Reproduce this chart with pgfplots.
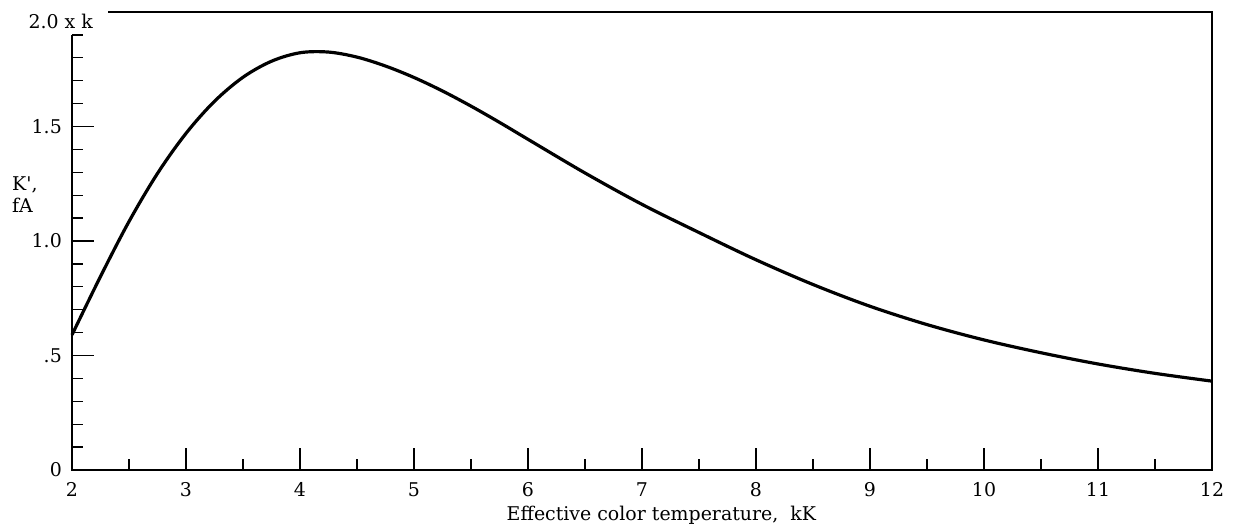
\documentclass[border=0pt]{standalone}
\usepackage{fontspec}
\setmainfont{DejaVu Serif}
\newfontfamily\plainserif{DejaVu Serif}[Ligatures=TeXOff]
\usepackage{pgfplots}
\pgfplotsset{compat=1.18}
\begin{document}
\begin{tikzpicture}
\begin{axis}[
  scale only axis, width=1140bp, height=458bp,
  xmin=2, xmax=12, ymin=0, ymax=2,
  axis line style={draw=none},
  xtick={2,3,...,12},
  minor xtick={2.5,3.5,4.5,5.5,6.5,7.5,8.5,9.5,10.5,11.5},
  ytick={0,0.5,1,1.5},
  yticklabels={0,.5,1.0,1.5},
  minor ytick={0.1,0.2,0.3,0.4,0.6,0.7,0.8,0.9,1.1,1.2,1.3,1.4,1.6,1.7,1.8,1.9},
  xtick pos=bottom, ytick pos=left, tick align=inside,
  major tick length=22bp, minor tick length=11bp,
  tick style={black, line width=1.3pt},
  /pgf/number format/assume math mode=true,
  ticklabel style={font=\fontsize{19}{22}\selectfont},
  xticklabel style={inner sep=0pt, anchor=north, yshift=-12bp},
  yticklabel style={inner sep=0pt, anchor=east, xshift=-10bp},
  clip=false,
]
\draw[line width=2pt] (axis cs:2,1.9) -- (axis cs:2,0) -- (axis cs:12,0) -- (axis cs:12,2) -- (axis cs:2.316,2);
\addplot[black, line width=3.2pt, smooth, tension=0.55] coordinates {
(2,0.59) (2.25,0.845) (2.5,1.085) (2.75,1.295) (3,1.47) (3.25,1.61) (3.5,1.715)
(3.75,1.785) (4,1.822) (4.25,1.825) (4.5,1.803) (4.75,1.764) (5,1.714) (5.25,1.655)
(5.5,1.589) (5.75,1.518) (6,1.444) (6.5,1.297) (7,1.16) (7.5,1.037) (8,0.918)
(8.5,0.81) (9,0.715) (9.5,0.635) (10,0.568) (10.5,0.512) (11,0.463) (11.5,0.422) (12,0.388)};
\node[anchor=east, inner sep=0pt, font=\fontsize{19}{22}\selectfont] at (axis cs:2,1.958) [xshift=21bp] {2.0 x k};
\node[anchor=north west, align=left, inner sep=0pt, font=\fontsize{19}{22}\plainserif] at (axis cs:2,1.28) [xshift=-60bp] {K',\\fA};
\node[anchor=base, inner sep=0pt, font=\fontsize{19}{22}\selectfont] at (axis cs:7.17,0) [yshift=-50bp] {Effective color temperature,\ \ kK};
\end{axis}
\pgfresetboundingbox
\path (-72bp,-57bp) rectangle (1164bp,470bp);
\end{tikzpicture}
\end{document}
